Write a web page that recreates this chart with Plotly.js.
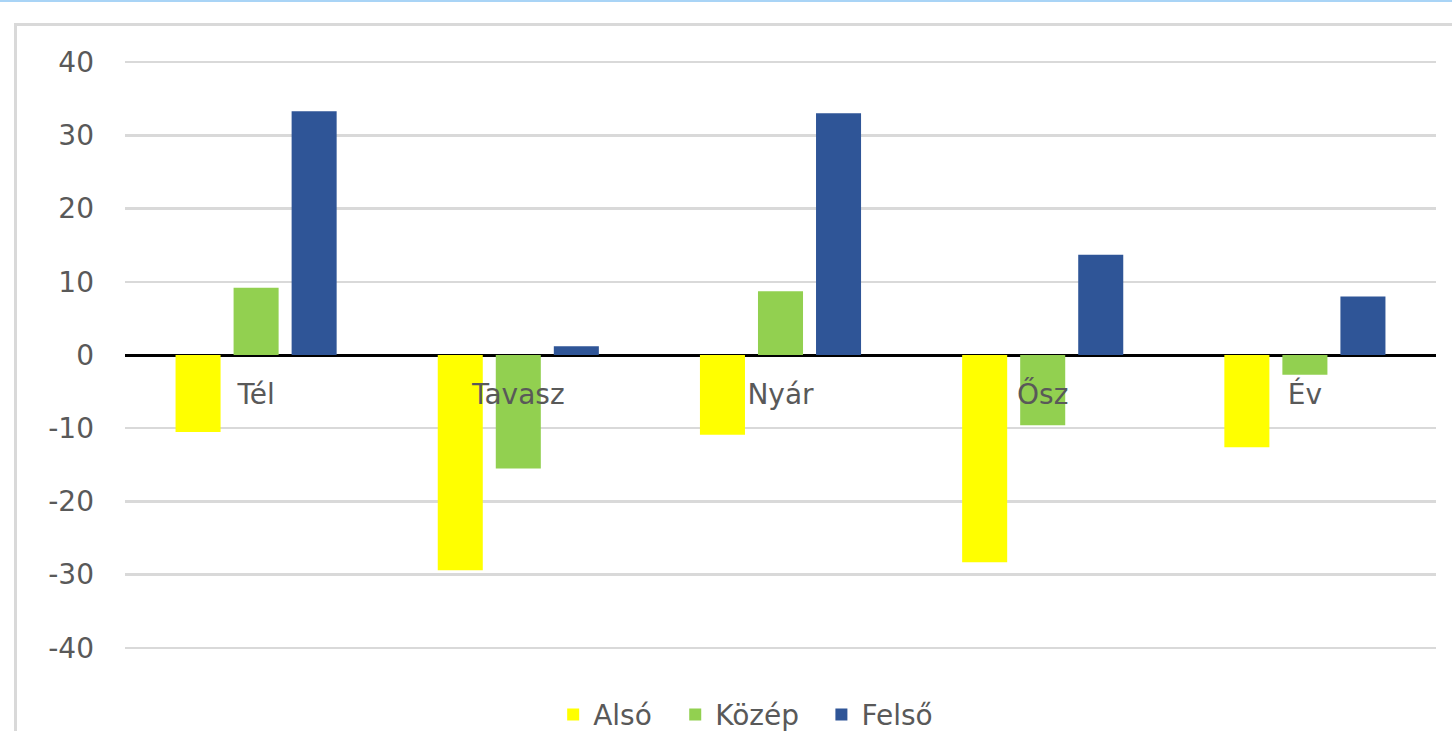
<!DOCTYPE html>
<html>
<head>
<meta charset="utf-8">
<script src="https://cdn.plot.ly/plotly-3.0.1.min.js"></script>
<style>
  html, body { margin: 0; padding: 0; background: #ffffff; overflow: hidden; }
  #topbar { position: absolute; left: 0; top: 0; width: 1452px; height: 2px; background: #a9d4f6; }
  #frame { position: absolute; left: 14px; top: 23px; width: 1460px; height: 760px;
           border-left: 3px solid #d9d9d9; border-top: 3px solid #d9d9d9; box-sizing: border-box; }
  #chart { position: absolute; left: 0; top: 0; width: 1452px; height: 731px; }
</style>
</head>
<body>
<div id="topbar"></div>
<div id="frame"></div>
<div id="chart"></div>
<script>
// Seasonal change by layer (Alsó / Közép / Felső)
const categories = ['Tél', 'Tavasz', 'Nyár', 'Ősz', 'Év'];
const also  = [-10.5, -29.4, -10.9, -28.3, -12.6];
const kozep = [9.2, -15.5, 8.7, -9.6, -2.7];
const felso = [33.3, 1.2, 33.0, 13.7, 8.0];
const yTicks = [-40, -30, -20, -10, 0, 10, 20, 30, 40];

const fontFamily = '"DejaVu Sans", "Open Sans", sans-serif';
const textColor = '#595959';

const traces = [
  { type: 'bar', name: 'Alsó', x: categories, y: also, marker: { color: '#ffff00' }, legend: 'legend' },
  { type: 'bar', name: 'Közép', x: categories, y: kozep, marker: { color: '#92d050' }, legend: 'legend2' },
  { type: 'bar', name: 'Felső', x: categories, y: felso, marker: { color: '#2f5597' }, legend: 'legend3' }
];

// one legend box per series, laid out in a row under the plot
function legendAt(x) {
  return {
    orientation: 'h',
    x: x,
    xanchor: 'left',
    y: -0.112,
    yanchor: 'middle',
    bgcolor: 'rgba(0,0,0,0)',
    tracegroupgap: 0,
    font: { family: fontFamily, size: 28, color: textColor }
  };
}

const layout = {
  width: 1452,
  height: 731,
  margin: { l: 125, r: 16, t: 61, b: 82, autoexpand: false },
  paper_bgcolor: 'rgba(0,0,0,0)',
  plot_bgcolor: 'rgba(0,0,0,0)',
  barmode: 'group',
  bargap: 0.336,
  bargroupgap: 0.224,
  font: { family: fontFamily, color: textColor, size: 28 },
  xaxis: {
    type: 'category',
    anchor: 'free',
    position: 0.5,
    showline: false,
    showgrid: false,
    zeroline: false,
    ticks: '',
    ticklabelstandoff: 20,
    tickfont: { family: fontFamily, size: 28, color: textColor }
  },
  yaxis: {
    range: [-40.15, 40.15],
    tickvals: yTicks,
    ticktext: yTicks.map(String),
    showgrid: true,
    gridcolor: '#d9d9d9',
    gridwidth: 2.5,
    zeroline: true,
    zerolinecolor: '#000000',
    zerolinewidth: 3,
    showline: false,
    ticks: '',
    ticklabelstandoff: 30,
    tickfont: { family: fontFamily, size: 28, color: textColor }
  },
  showlegend: true,
  legend: legendAt(0.3266),
  legend2: legendAt(0.4197),
  legend3: legendAt(0.5312)
};

Plotly.newPlot('chart', traces, layout, { displayModeBar: false, staticPlot: true });
</script>
</body>
</html>
